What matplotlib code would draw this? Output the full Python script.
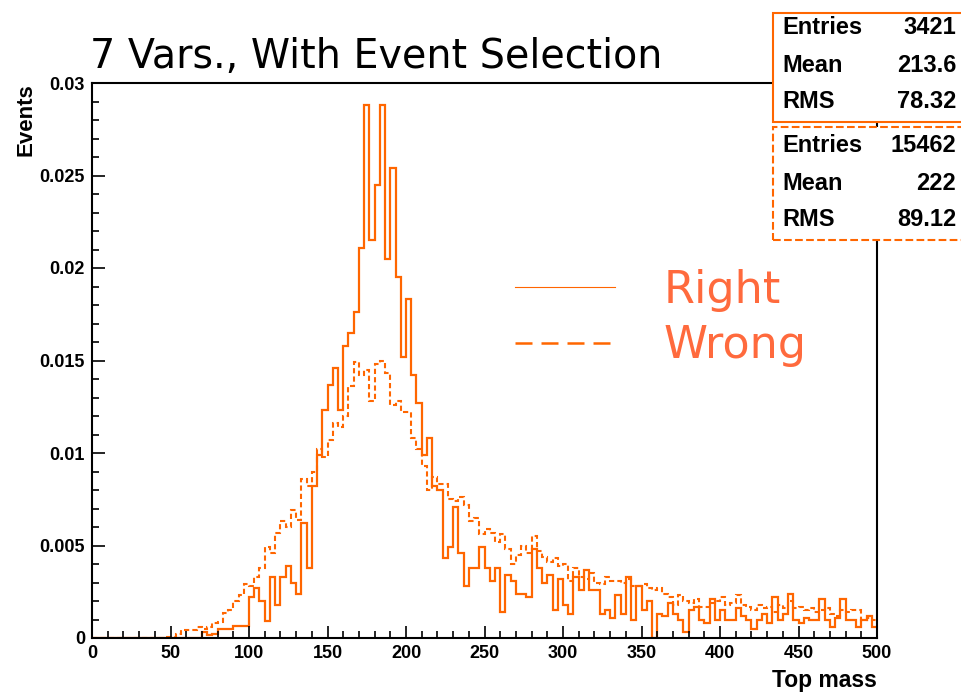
import numpy as np
import matplotlib
matplotlib.use('Agg')
import matplotlib.pyplot as plt
from matplotlib.lines import Line2D
from matplotlib.patches import Rectangle
from matplotlib.ticker import MultipleLocator, FuncFormatter

# 150 bins from 0 to 500, bin contents in units of 1e-3
x_lo, x_hi, n_bins = 0, 500, 150

right_1e3 = [
    0, 0, 0, 0, 0, 0, 0, 0, 0, 0,
    0, 0, 0, 0, 0, 0, 0, 0, 0, 0,
    0, 0.35, 0.15, 0.2, 0.5, 0.5, 0.5, 0.65, 0.65, 0.65,
    2.2, 2.7, 2.0, 0.9, 3.3, 1.8, 3.3, 3.9, 3.0, 2.4,
    6.2, 3.8, 8.2, 9.9, 12.3, 13.7, 14.6, 12.3, 15.8, 16.5,
    17.6, 21.1, 28.8, 21.5, 24.5, 28.8, 20.5, 25.4, 19.5, 15.2,
    18.3, 14.2, 12.7, 9.9, 10.8, 8.2, 8.0, 4.3, 4.9, 7.1,
    4.6, 2.8, 3.8, 3.8, 4.9, 3.8, 3.1, 3.8, 1.4, 3.4,
    3.1, 2.4, 2.4, 2.2, 4.8, 3.8, 3.0, 3.4, 1.5, 3.2,
    1.8, 1.3, 3.3, 2.6, 3.7, 2.6, 2.6, 1.3, 1.5, 1.1,
    2.3, 1.3, 3.3, 1.0, 2.8, 1.5, 2.0, 0.0, 1.3, 1.2,
    1.9, 1.3, 1.0, 0.3, 1.5, 1.7, 1.0, 0.8, 2.1, 1.0,
    1.5, 1.0, 1.0, 1.6, 1.2, 1.0, 0.5, 1.0, 1.3, 0.8,
    2.2, 1.0, 1.3, 2.4, 1.0, 0.8, 1.1, 1.0, 1.0, 2.1,
    1.0, 0.6, 1.1, 2.1, 1.0, 1.0, 0.6, 1.0, 1.2, 0.6,
]

wrong_1e3 = [
    0, 0, 0, 0, 0, 0, 0, 0, 0, 0,
    0, 0, 0, 0, 0.07, 0.07, 0.2, 0.43, 0.43, 0.43,
    0.6, 0.5, 0.6, 0.8, 0.85, 1.35, 1.5, 2.0, 2.3, 2.9,
    2.8, 3.3, 3.8, 4.9, 4.6, 5.7, 6.3, 6.0, 6.9, 6.4,
    8.6, 8.2, 9.0, 10.2, 9.8, 10.7, 11.6, 11.4, 12.0, 13.6,
    14.9, 14.2, 14.5, 12.8, 14.8, 15.0, 14.3, 12.6, 12.8, 12.2,
    12.2, 10.8, 10.2, 9.3, 8.0, 8.7, 8.3, 8.3, 7.5, 7.4,
    7.6, 7.2, 6.3, 6.5, 5.6, 5.9, 5.7, 5.2, 5.6, 4.8,
    4.0, 4.5, 5.0, 4.6, 5.5, 4.7, 4.4, 4.1, 4.3, 3.9,
    4.0, 3.1, 3.8, 3.3, 3.2, 3.5, 3.0, 2.9, 3.3, 3.1,
    3.1, 3.0, 3.2, 2.8, 2.8, 2.9, 2.7, 2.6, 2.7, 2.4,
    2.2, 1.8, 2.3, 2.0, 1.9, 2.1, 1.7, 1.7, 1.9, 2.0,
    2.2, 1.8, 1.9, 2.3, 1.8, 1.7, 1.5, 1.8, 1.6, 1.7,
    1.4, 1.8, 1.6, 2.0, 1.6, 1.7, 1.5, 1.6, 1.4, 1.5,
    1.6, 1.3, 1.2, 1.5, 1.4, 1.5, 1.5, 1.0, 1.1, 1.0,
]

series_names = ['Right', 'Wrong']
stat_labels = ['Entries', 'Mean', 'RMS']
stat_right = ['3421', '213.6', '78.32']
stat_wrong = ['15462', '222', '89.12']

title = '7 Vars., With Event Selection'
xlabel = 'Top mass'
ylabel = 'Events'

orange = '#ff6600'
legend_orange = '#ff6a3d'
W, H = 961, 693

edges = np.linspace(x_lo, x_hi, n_bins + 1)
right = np.array(right_1e3) * 1e-3
wrong = np.array(wrong_1e3) * 1e-3

fig = plt.figure(figsize=(W / 100, H / 100), dpi=100)
ax = fig.add_axes([92 / W, 1 - 638 / H, (877 - 92) / W, (638 - 83) / H])

ax.stairs(wrong, edges, baseline=None, color=orange, lw=1.5, linestyle=(0, (2.5, 1.5)))
ax.stairs(right, edges, baseline=None, color=orange, lw=1.6)

ax.set_xlim(0, 500)
ax.set_ylim(0, 0.03)
ax.xaxis.set_major_locator(MultipleLocator(50))
ax.xaxis.set_minor_locator(MultipleLocator(10))
ax.yaxis.set_major_locator(MultipleLocator(0.005))
ax.yaxis.set_minor_locator(MultipleLocator(0.001))
ax.yaxis.set_major_formatter(FuncFormatter(lambda v, p: '%g' % round(v, 4)))
ax.xaxis.set_major_formatter(FuncFormatter(lambda v, p: '%g' % v))

tick_font = dict(family='Liberation Sans', weight='bold', size=13)
ax.tick_params(which='both', direction='in', width=1.2, top=False, right=False)
ax.tick_params(which='major', length=9, pad=5)
ax.tick_params(which='minor', length=5)
for lab in ax.get_xticklabels() + ax.get_yticklabels():
    lab.set_fontproperties(tick_font)
for s in ax.spines.values():
    s.set_linewidth(1.5)

ax.set_xlabel(xlabel, loc='right', fontfamily='Liberation Sans', fontweight='bold', fontsize=16.5, labelpad=5)
ax.set_ylabel(ylabel, loc='top', fontfamily='Liberation Sans', fontweight='bold', fontsize=16, labelpad=2)

fig.text(90 / W, 1 - 68 / H, title, fontsize=28.5, ha='left', va='baseline', fontfamily='DejaVu Sans')

# legend
handles = [Line2D([], [], color=orange, lw=0.8),
           Line2D([], [], color=orange, lw=1.8, linestyle=(0, (6.8, 3.6)))]
ax.legend(handles, series_names, loc='center left', bbox_to_anchor=(515 / W, 1 - 318 / H),
          bbox_transform=fig.transFigure, frameon=False, fontsize=32, labelcolor=legend_orange,
          handlelength=2.25, handletextpad=1.1, labelspacing=0.28, borderpad=0, borderaxespad=0)

# stat boxes
boxes = [(13, 122, '-', stat_right, (28, 66, 101)),
         (127, 240, '--', stat_wrong, (146, 184, 220))]
for top, bot, ls, vals, rows in boxes:
    fig.add_artist(Rectangle((773 / W, 1 - bot / H), 0.3, (bot - top) / H, transform=fig.transFigure,
                             facecolor='white', edgecolor=orange, lw=1.5, linestyle=ls, zorder=5))
    for lab, val, yr in zip(stat_labels, vals, rows):
        fig.text(782 / W, 1 - yr / H, lab, ha='left', va='center', fontfamily='Liberation Sans',
                 fontweight='bold', fontsize=17, zorder=6)
        fig.text(956 / W, 1 - yr / H, val, ha='right', va='center', fontfamily='Liberation Sans',
                 fontweight='bold', fontsize=17, zorder=6)

fig.savefig('out.png', dpi=100)
